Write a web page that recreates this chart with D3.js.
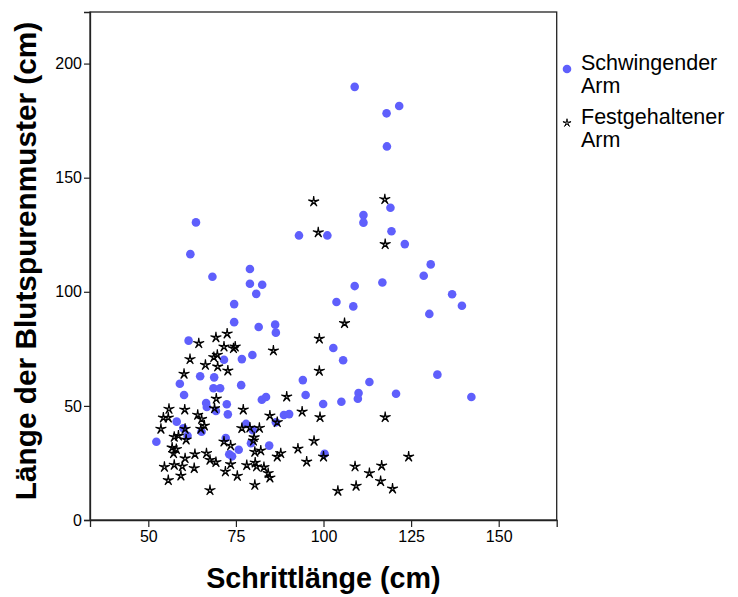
<!DOCTYPE html>
<html>
<head>
<meta charset="utf-8">
<script src="https://cdn.jsdelivr.net/npm/d3@7"></script>
<style>
  html, body { margin: 0; padding: 0; background: #ffffff; }
  svg { display: block; font-family: Arial, "Liberation Sans", sans-serif; }
</style>
</head>
<body>
<svg id="chart" width="738" height="597"></svg>
<script>
// ---- Data (Schrittlänge cm, Länge der Blutspurenmuster cm) ----
const seriesNames = ["Schwingender Arm", "Festgehaltener Arm"];
const xTicks = [50, 75, 100, 125, 150];
const yTicks = [0, 50, 100, 150, 200];
const xTitle = "Schrittlänge (cm)";
const yTitle = "Länge der Blutspurenmuster (cm)";

const swingPoints = [
  [74.5,94.6],[74.5,86.7],[81.5,84.6],[86.2,85.6],[86.4,82.1],[61.5,78.6],[79.7,72.3],[76.7,70.5],
  [71.6,70.2],[64.8,63.0],[68.8,62.5],[59.0,59.7],[76.5,59.1],[68.6,57.7],[70.5,57.7],[60.2,54.8],
  [82.4,52.7],[83.6,53.9],[66.5,51.3],[66.7,49.5],[69.3,47.8],[72.4,50.7],[72.7,46.3],[58.1,43.1],
  [60.0,40.2],[61.2,36.9],[65.2,38.7],[77.9,42.1],[79.8,39.4],[86.4,42.8],[52.3,34.3],[72.1,35.9],
  [79.3,33.6],[84.5,32.6],[75.8,30.8],[73.1,28.8],[73.9,27.9],[63.6,130.4],[62.0,116.5],[68.3,106.6],
  [79.0,110.0],[79.0,103.5],[82.5,103.1],[80.8,99.1],[103.7,95.5],[108.5,93.6],[130.2,90.3],[102.8,75.4],
  [105.6,70.0],[94.1,61.3],[113.1,60.5],[94.9,54.8],[110.0,55.6],[109.8,53.1],[120.7,55.3],[99.9,50.8],
  [105.1,51.8],[88.7,46.0],[90.2,46.4],[100.3,29.0],[108.9,189.8],[118.0,178.2],[121.6,181.4],[118.1,163.7],
  [119.1,136.8],[111.4,133.6],[111.4,130.3],[93.0,124.7],[101.1,124.7],[119.4,126.5],[123.2,120.9],[130.6,112.0],
  [128.6,107.0],[108.9,102.5],[116.8,104.1],[136.7,98.9],[139.5,93.9],[132.5,63.7],[142.2,53.9]
];

const fixedPoints = [
  [97.2,139.5],[117.5,140.5],[98.5,126.0],[117.6,120.8],[106.0,86.2],[98.8,79.4],[98.8,65.3],[89.5,54.0],
  [93.9,47.4],[99.0,45.0],[117.6,45.0],[86.8,42.8],[97.3,34.6],[92.7,31.2],[86.8,27.7],[87.8,29.2],
  [95.2,25.5],[100.0,27.7],[124.3,27.7],[109.0,23.4],[116.6,23.8],[113.1,20.5],[116.3,17.0],[109.3,14.9],
  [119.7,13.7],[104.1,12.7],[84.7,18.5],[69.3,80.0],[72.5,81.6],[64.4,77.4],[71.6,75.9],[74.3,75.2],
  [74.8,75.9],[85.7,74.2],[69.7,72.3],[68.7,71.3],[61.9,70.4],[66.3,67.9],[69.8,67.2],[72.7,65.4],
  [60.2,64.0],[69.4,53.1],[68.9,48.9],[55.9,48.6],[60.4,48.3],[77.1,48.3],[54.3,44.8],[55.7,44.8],
  [64.1,46.0],[65.2,44.2],[84.7,45.7],[53.6,39.9],[60.5,39.9],[65.0,39.9],[66.0,41.3],[76.7,40.2],
  [79.0,40.4],[81.7,40.3],[57.4,36.4],[58.6,36.9],[60.8,35.2],[71.6,34.3],[73.5,32.6],[80.2,36.2],
  [80.0,34.7],[56.8,31.7],[58.0,31.0],[57.2,29.2],[63.3,28.8],[60.5,27.0],[66.6,29.2],[67.6,26.3],
  [80.4,29.8],[82.1,30.4],[69.3,25.3],[54.6,23.2],[57.4,24.1],[59.7,23.5],[63.1,22.7],[73.5,24.4],
  [78.1,24.0],[80.5,25.1],[80.9,23.4],[83.0,23.1],[72.0,21.2],[84.2,20.5],[59.3,19.4],[55.7,17.4],
  [75.4,19.3],[80.4,15.3],[67.6,13.0]
];

// ---- Layout ----
const svg = d3.select("#chart");
const plot = { left: 90, top: 12, right: 556.7, bottom: 520 };
const x = d3.scaleLinear().domain([33.36, 166.55]).range([plot.left, plot.right]);
const y = d3.scaleLinear().domain([0, 222.6]).range([plot.bottom, plot.top]);

const blue = "#5f5ffc";
const axisColor = "#222";

// frame
svg.append("rect")
  .attr("x", plot.left).attr("y", plot.top)
  .attr("width", plot.right - plot.left).attr("height", plot.bottom - plot.top)
  .attr("fill", "none").attr("stroke", axisColor).attr("stroke-width", 1.3);

// axes
const xAxis = d3.axisBottom(x).tickValues(xTicks).tickSize(7).tickPadding(4);
const yAxis = d3.axisLeft(y).tickValues(yTicks).tickSize(6).tickPadding(2);

const gx = svg.append("g").attr("transform", `translate(0,${plot.bottom})`).call(xAxis);
const gy = svg.append("g").attr("transform", `translate(${plot.left},0)`).call(yAxis);
[gx, gy].forEach(g => {
  g.select(".domain").attr("stroke", axisColor).attr("stroke-width", 1.3);
  g.selectAll(".tick line").attr("stroke", axisColor).attr("stroke-width", 1.2);
  g.selectAll(".tick text").attr("fill", "#000")
    .style("font-family", "Arial, 'Liberation Sans', sans-serif").style("font-size", "16px");
});

// star symbol (thin five-pointed star)
const thinStar = {
  draw(context, size) {
    const R = Math.sqrt(size) * 0.8, r = R * 0.2;
    for (let i = 0; i < 10; i++) {
      const a = -Math.PI / 2 + i * Math.PI / 5;
      const rad = i % 2 === 0 ? R : r;
      const px = rad * Math.cos(a), py = rad * Math.sin(a);
      if (i === 0) context.moveTo(px, py); else context.lineTo(px, py);
    }
    context.closePath();
  }
};
const starPath = d3.symbol().type(thinStar).size(50)();

// points
svg.append("g").selectAll("circle").data(swingPoints).join("circle")
  .attr("cx", d => x(d[0])).attr("cy", d => y(d[1])).attr("r", 4.3)
  .attr("fill", blue);

svg.append("g").selectAll("path").data(fixedPoints).join("path")
  .attr("transform", d => `translate(${x(d[0])},${y(d[1])})`)
  .attr("d", starPath).attr("fill", "none").attr("stroke", "#000").attr("stroke-width", 1.1);

// axis titles
svg.append("text")
  .attr("x", (plot.left + plot.right) / 2).attr("y", 588)
  .attr("text-anchor", "middle").attr("font-weight", "bold").attr("font-size", "28.7px")
  .attr("fill", "#000").text(xTitle);

svg.append("text")
  .attr("transform", `translate(36,261) rotate(-90)`)
  .attr("text-anchor", "middle").attr("font-weight", "bold").attr("font-size", "29.8px")
  .attr("fill", "#000").text(yTitle);

// legend
const legend = svg.append("g");
const legendItems = [
  { name: seriesNames[0], lines: ["Schwingender", "Arm"], sy: 69, ty: 70 },
  { name: seriesNames[1], lines: ["Festgehaltener", "Arm"], sy: 123, ty: 124 }
];
legendItems.forEach((it, i) => {
  if (i === 0) {
    legend.append("circle").attr("cx", 567).attr("cy", it.sy).attr("r", 4.3).attr("fill", blue);
  } else {
    legend.append("path").attr("transform", `translate(567,${it.sy}) scale(0.75)`).attr("d", starPath)
      .attr("fill", "none").attr("stroke", "#000").attr("stroke-width", 1.3);
  }
  const t = legend.append("text").attr("x", 581).attr("y", it.ty)
    .attr("font-size", "21.5px").attr("fill", "#000");
  it.lines.forEach((ln, j) => {
    t.append("tspan").attr("x", 581).attr("dy", j === 0 ? 0 : 23).text(ln);
  });
});
</script>
</body>
</html>
